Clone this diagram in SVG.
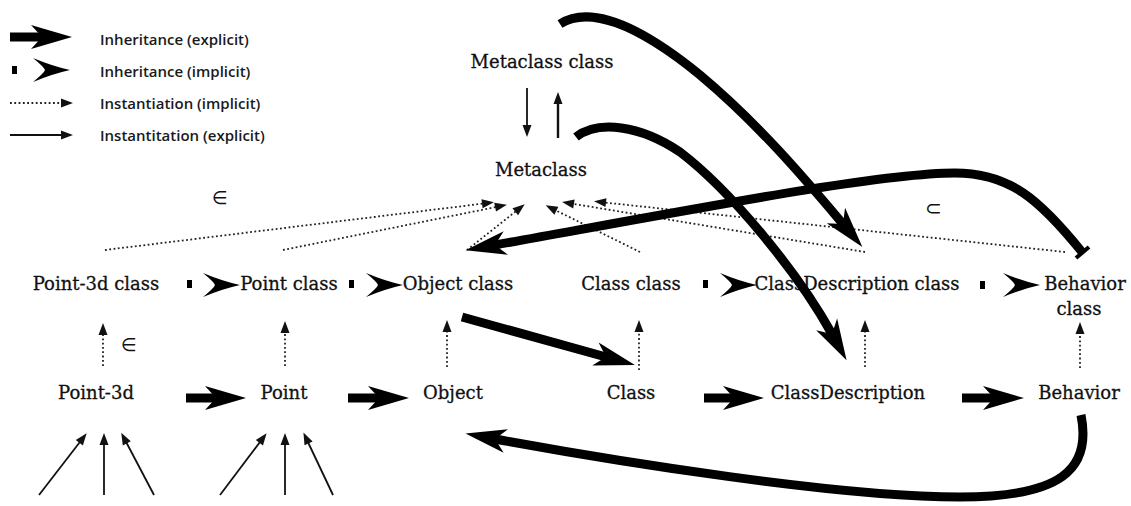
<svg xmlns="http://www.w3.org/2000/svg" xmlns:xlink="http://www.w3.org/1999/xlink" width="1131" height="506" viewBox="0 0 1131 506">
<defs>
<style>
.lbl{font-family:"DejaVu Serif","Liberation Serif",serif;font-size:18px;fill:#111;stroke:#111;stroke-width:0.3;text-anchor:middle}
.leg{font-family:"Open Sans","Liberation Sans",sans-serif;font-size:15px;font-weight:600;fill:#1a1a1a}
.thick{fill:none;stroke:#000;stroke-width:9}
.dot{fill:none;stroke:#222;stroke-width:1.8;stroke-dasharray:1.8 2.5}
.thin{fill:none;stroke:#111;stroke-width:1.8}
.blk{fill:#000}
.sym{font-family:"DejaVu Sans",sans-serif;fill:#111}
</style>
<marker id="hd" markerUnits="userSpaceOnUse" viewBox="-45 -15 50 30" markerWidth="50" markerHeight="30" refX="-30" refY="0" orient="auto">
<path d="M0,0 L-41,-12 L-30,0 L-41,12 Z" fill="#000"/>
</marker>
<marker id="sm" markerUnits="userSpaceOnUse" viewBox="-14 -6 16 12" markerWidth="16" markerHeight="12" refX="-6" refY="0" orient="auto">
<path d="M0,0 L-12,-4.5 L-12,4.5 Z" fill="#111"/>
</marker>
<path id="imph" d="M0,0 Q-18,-4 -37,-12 Q-26,-3 -25,0 Q-26,3 -37,12 Q-18,4 0,0 Z" fill="#000"/>
</defs>
<rect width="1131" height="506" fill="#fff"/>

<g id="legend">
<path class="thick" d="M10 37 L42 37" marker-end="url(#hd)"/>
<rect class="blk" x="12" y="66" width="5" height="8"/>
<use xlink:href="#imph" x="70" y="70"/>
<path class="dot" d="M10 103 L67 103" marker-end="url(#sm)"/>
<path class="thin" d="M10 135 L67 135" marker-end="url(#sm)"/>
<text class="leg" x="100" y="45">Inheritance (explicit)</text>
<text class="leg" x="100" y="77">Inheritance (implicit)</text>
<text class="leg" x="100" y="109">Instantiation (implicit)</text>
<text class="leg" x="100" y="141">Instantitation (explicit)</text>
</g>

<g id="metaclass-class"><text class="lbl" x="542" y="68">Metaclass class</text></g>
<g id="metaclass"><text class="lbl" x="541" y="176">Metaclass</text></g>
<g id="point3d-class"><text class="lbl" x="96" y="290">Point-3d class</text></g>
<g id="point-class"><text class="lbl" x="289" y="290">Point class</text></g>
<g id="object-class"><text class="lbl" x="458" y="290">Object class</text></g>
<g id="class-class"><text class="lbl" x="631" y="290">Class class</text></g>
<g id="classdescription-class"><text class="lbl" x="857" y="290">ClassDescription class</text></g>
<g id="behavior-class"><text class="lbl" x="1085" y="290">Behavior</text><text class="lbl" x="1079" y="315">class</text></g>
<g id="point3d"><text class="lbl" x="96" y="399">Point-3d</text></g>
<g id="point"><text class="lbl" x="284" y="399">Point</text></g>
<g id="object"><text class="lbl" x="453" y="399">Object</text></g>
<g id="class"><text class="lbl" x="631" y="399">Class</text></g>
<g id="classdescription"><text class="lbl" x="848" y="399">ClassDescription</text></g>
<g id="behavior"><text class="lbl" x="1079" y="399">Behavior</text></g>

<g id="symbols">
<text class="sym" x="212" y="204" font-size="18">∈</text>
<text class="sym" x="121" y="351" font-size="18">∈</text>
<text class="sym" x="925" y="215" font-size="20">⊂</text>
</g>

<g id="connectors">
<path class="thin" d="M527 88 L527 131" marker-end="url(#sm)"/>
<path class="thin" d="M558 138 L558 98" marker-end="url(#sm)" style="stroke-width:2.4"/>
<path class="dot" d="M105 250 L488 203" marker-end="url(#sm)"/>
<path class="dot" d="M283 250 L501 206" marker-end="url(#sm)"/>
<path class="dot" d="M467 250 L520 208" marker-end="url(#sm)"/>
<path class="dot" d="M640 252 L551 208" marker-end="url(#sm)"/>
<path class="dot" d="M865 252 L568 203" marker-end="url(#sm)"/>
<path class="dot" d="M1065 252 L600 202" marker-end="url(#sm)"/>
<path class="dot" d="M103 366 L103 329" marker-end="url(#sm)"/>
<path class="dot" d="M285 366 L285 327" marker-end="url(#sm)"/>
<path class="dot" d="M447 367 L447 326" marker-end="url(#sm)"/>
<path class="dot" d="M639 370 L639 326" marker-end="url(#sm)"/>
<path class="dot" d="M865 367 L865 326" marker-end="url(#sm)"/>
<path class="dot" d="M1080 368 L1080 328" marker-end="url(#sm)"/>
<rect class="blk" x="187" y="280" width="5" height="8"/>
<use xlink:href="#imph" x="240" y="285"/>
<rect class="blk" x="349" y="280" width="5" height="8"/>
<use xlink:href="#imph" x="403" y="285"/>
<rect class="blk" x="703" y="280" width="5" height="8"/>
<use xlink:href="#imph" x="757" y="285"/>
<rect class="blk" x="980" y="281" width="5" height="8"/>
<use xlink:href="#imph" x="1040" y="285"/>
<path class="thick" d="M186 398 L216 398" marker-end="url(#hd)"/>
<path class="thick" d="M348 398 L379 398" marker-end="url(#hd)"/>
<path class="thick" d="M704 398 L734 398" marker-end="url(#hd)"/>
<path class="thick" d="M962 398 L994 398" marker-end="url(#hd)"/>
<path class="thick" d="M462 317 L606 357" marker-end="url(#hd)"/>
<path class="thick" d="M560 24 C588 6 635 22 700 75 C760 125 810 185 843 224" marker-end="url(#hd)"/>
<path class="thick" d="M576 137 C598 120 640 125 680 152 C730 190 797 271 832 334" marker-end="url(#hd)"/>
<path class="thick" d="M1082 252 C1040 200 1010 173 955 173 C880 173 700 208 495 245" marker-end="url(#hd)"/>
<path d="M1076 258 L1089 247" stroke="#000" stroke-width="4" fill="none"/>
<path class="thick" d="M1081 415 C1092 470 1060 497 960 497 C840 497 620 462 495 439" marker-end="url(#hd)"/>
<path class="thin" d="M39 495 L83 438" marker-end="url(#sm)"/>
<path class="thin" d="M104 495 L104 439" marker-end="url(#sm)"/>
<path class="thin" d="M154 495 L124 438" marker-end="url(#sm)"/>
<path class="thin" d="M220 495 L263 438" marker-end="url(#sm)"/>
<path class="thin" d="M285 495 L285 439" marker-end="url(#sm)"/>
<path class="thin" d="M333 495 L306 438" marker-end="url(#sm)"/>
</g>
</svg>
